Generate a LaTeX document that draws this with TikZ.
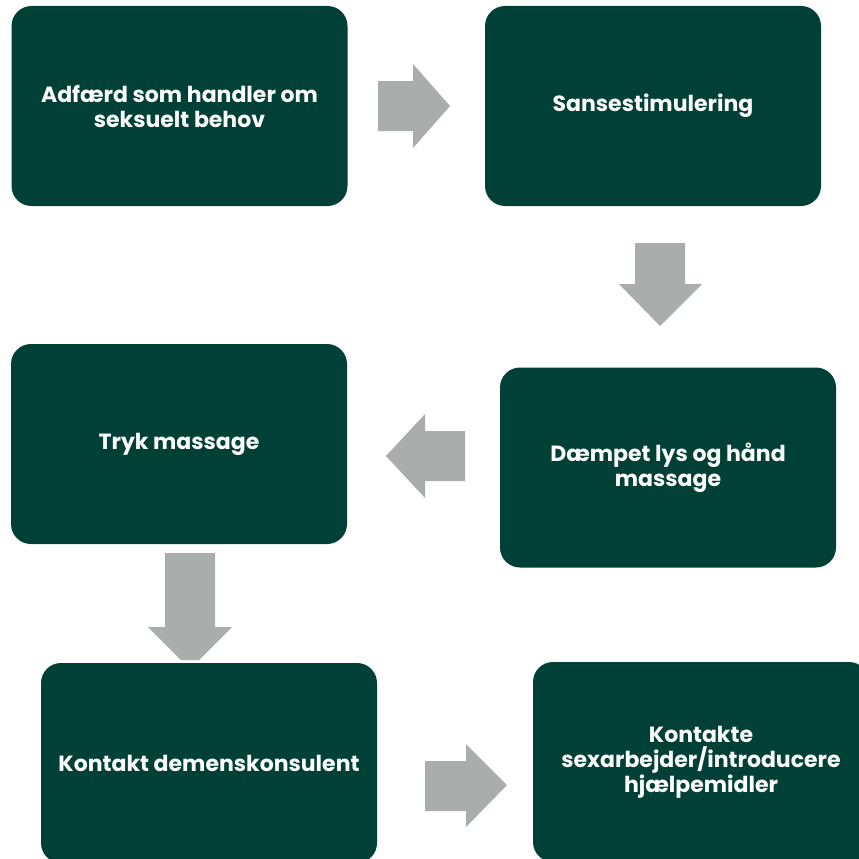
\documentclass[tikz,border=0pt]{standalone}
\usepackage{fontspec}
\setmainfont{Poppins}
\definecolor{boxgreen}{RGB}{0,64,55}
\definecolor{arrowgray}{RGB}{169,173,171}
\begin{document}
\begin{tikzpicture}[x=1pt,y=-1pt,
  box/.style={fill=boxgreen, rounded corners=20pt, minimum width=336pt, minimum height=200pt,
    inner sep=0pt, text=white, font=\bfseries\fontsize{22}{25}\selectfont, align=center},
  blockarrow/.style={fill=arrowgray}]
\useasboundingbox (0,0) rectangle (859,859);
\fill[white] (0,0) rectangle (859,859);
% block arrows
\fill[blockarrow] (378,81) -- (413,81) -- (413,64) -- (450,106) -- (413,148) -- (413,131) -- (378,131) -- cycle;
\fill[blockarrow] (635,243) -- (685,243) -- (685,284) -- (702,284) -- (660,326) -- (619,284) -- (635,284) -- cycle;
\fill[blockarrow] (465,431) -- (425,431) -- (425,414) -- (386,456) -- (425,498) -- (425,481) -- (465,481) -- cycle;
\fill[blockarrow] (165,553) -- (215,553) -- (215,627) -- (232,627) -- (199,660) -- (181,660) -- (148,627) -- (165,627) -- cycle;
\fill[blockarrow] (425,761) -- (466,761) -- (466,744) -- (507,785) -- (466,827) -- (466,811) -- (425,811) -- cycle;
% boxes
\node[box] (a) at (179.5,106) {Adfærd som handler om\\seksuelt behov};
\node[box] (b) at (653,106) {Sansestimulering};
\node[box] (c) at (668,467.5) {Dæmpet lys og hånd\\massage};
\node[box] (d) at (179,444) {Tryk massage};
\node[box] (e) at (209,763) {Kontakt demenskonsulent};
\node[box] (f) at (701,762) {Kontakte\\sexarbejder/introducere\\hjælpemidler};
\end{tikzpicture}
\end{document}
